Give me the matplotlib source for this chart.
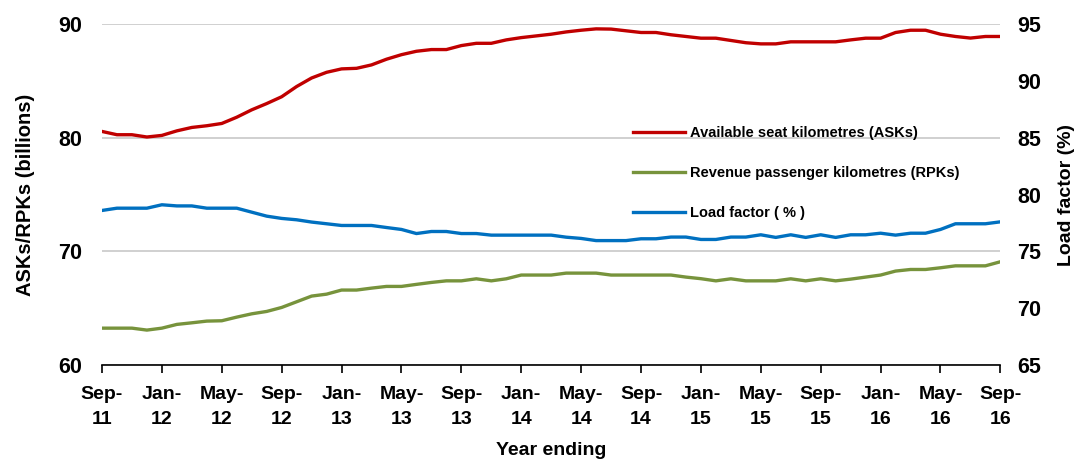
import matplotlib
matplotlib.use("Agg")
import matplotlib.pyplot as plt
import numpy as np

plt.rcParams['font.family'] = ['Liberation Sans', 'DejaVu Sans']

# Monthly series, Sep-11 .. Sep-16 (61 months)
ask = [80.55, 80.26, 80.26, 80.06, 80.2, 80.6, 80.9, 81.05, 81.25, 81.8,
       82.45, 83.0, 83.6, 84.5, 85.25, 85.75, 86.05, 86.1, 86.4, 86.9,
       87.3, 87.6, 87.75, 87.75, 88.1, 88.3, 88.3, 88.6, 88.8, 88.95,
       89.1, 89.3, 89.45, 89.57, 89.55, 89.4, 89.25, 89.25, 89.05, 88.9,
       88.75, 88.75, 88.55, 88.35, 88.25, 88.25, 88.43, 88.43, 88.43, 88.43,
       88.6, 88.75, 88.75, 89.25, 89.45, 89.45, 89.1, 88.9, 88.76, 88.9,
       88.9]
rpk = [63.25, 63.25, 63.25, 63.08, 63.25, 63.58, 63.72, 63.87, 63.9, 64.22,
       64.51, 64.72, 65.07, 65.57, 66.07, 66.24, 66.6, 66.6, 66.77, 66.92,
       66.92, 67.1, 67.27, 67.41, 67.41, 67.59, 67.41, 67.59, 67.92, 67.92,
       67.92, 68.09, 68.09, 68.09, 67.92, 67.92, 67.92, 67.92, 67.92, 67.74,
       67.6, 67.41, 67.59, 67.41, 67.41, 67.41, 67.59, 67.41, 67.59, 67.41,
       67.56, 67.74, 67.92, 68.27, 68.41, 68.41, 68.56, 68.73, 68.73, 68.73,
       69.09]
load_factor = [78.6, 78.8, 78.8, 78.8, 79.1, 79.0, 79.0, 78.8, 78.8, 78.8,
               78.45, 78.1, 77.9, 77.78, 77.58, 77.43, 77.28, 77.28, 77.28, 77.1,
               76.93, 76.57, 76.75, 76.75, 76.57, 76.57, 76.43, 76.43, 76.43, 76.43,
               76.43, 76.25, 76.14, 75.95, 75.95, 75.95, 76.11, 76.11, 76.26, 76.26,
               76.05, 76.05, 76.26, 76.26, 76.46, 76.23, 76.46, 76.23, 76.46, 76.23,
               76.46, 76.46, 76.6, 76.43, 76.6, 76.6, 76.93, 77.43, 77.43, 77.43,
               77.6]
tick_labels = ["Sep-\n11", "Jan-\n12", "May-\n12", "Sep-\n12", "Jan-\n13", "May-\n13",
               "Sep-\n13", "Jan-\n14", "May-\n14", "Sep-\n14", "Jan-\n15", "May-\n15",
               "Sep-\n15", "Jan-\n16", "May-\n16", "Sep-\n16"]

months = np.arange(len(ask))

fig = plt.figure(figsize=(10.78, 4.61), dpi=100)
ax = fig.add_axes([0.0946, 0.208, 0.8334, 0.740])
ax2 = ax.twinx()

red = "#C00000"
green = "#77933C"
blue = "#0070C0"
lw = 2.4

l1, = ax.plot(months, ask, color=red, lw=lw, label="Available seat kilometres (ASKs)")
l2, = ax.plot(months, rpk, color=green, lw=lw, label="Revenue passenger kilometres (RPKs)")
l3, = ax2.plot(months, load_factor, color=blue, lw=lw, label="Load factor ( % )")

ax.set_xlim(0, 60)
ax.set_ylim(60, 90)
ax2.set_ylim(65, 95)
ax.set_yticks([60, 70, 80, 90])
ax2.set_yticks([65, 70, 75, 80, 85, 90, 95])
ax.set_xticks(np.arange(0, 61, 4))
ax.set_xticklabels(tick_labels, linespacing=1.65)

ax.grid(axis='y', color='#C8C8C8', lw=1.2)
ax.set_axisbelow(True)

for a in (ax, ax2):
    for s in ('top', 'left', 'right'):
        a.spines[s].set_visible(False)
ax2.spines['bottom'].set_visible(False)
ax.spines['bottom'].set_color('black')
ax.spines['bottom'].set_linewidth(1.2)

ax.tick_params(axis='x', direction='out', length=6, width=1.2, labelsize=14, pad=9)
ax.tick_params(axis='y', length=0, labelsize=15.5, pad=14)
ax2.tick_params(axis='y', length=0, labelsize=15.5, pad=12)
for lab in ax.get_xticklabels() + ax.get_yticklabels() + ax2.get_yticklabels():
    lab.set_fontweight('bold')

ax.set_ylabel("ASKs/RPKs (billions)", fontsize=14.5, fontweight='bold', labelpad=17)
ax2.set_ylabel("Load factor (%)", fontsize=14, fontweight='bold', labelpad=12)
ax.set_xlabel("Year ending", fontsize=14, fontweight='bold', labelpad=10)

leg = ax.legend(handles=[l1, l2, l3], loc='upper left', bbox_to_anchor=(0.577, 0.74),
                frameon=False, handlelength=3.5, labelspacing=1.8,
                handletextpad=0.35, prop={'weight': 'bold', 'size': 10.5})

fig.savefig("out.png", dpi=100)
